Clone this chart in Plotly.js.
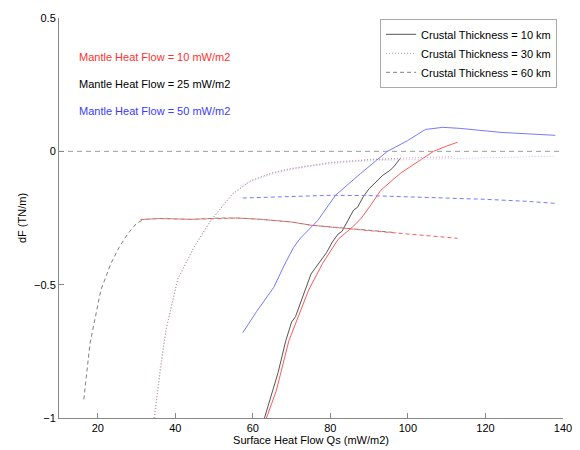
<!DOCTYPE html>
<html>
<head>
<meta charset="utf-8">
<script src="https://cdn.plot.ly/plotly-3.0.1.min.js"></script>
<style>html,body{margin:0;padding:0;background:#fff;}#chart{width:580px;height:450px;}</style>
</head>
<body>
<div id="chart"></div>
<script>
// ---- data ----
const legendNames = ["Crustal Thickness = 10 km", "Crustal Thickness = 30 km", "Crustal Thickness = 60 km"];
const mantleLabels = ["Mantle Heat Flow = 10 mW/m2", "Mantle Heat Flow = 25 mW/m2", "Mantle Heat Flow = 50 mW/m2"];

// 10 km crust (solid)
const red10x = [63.5, 66, 69.3, 74.4, 78, 82, 86, 88, 90.5, 93, 98, 103, 106.6, 110, 112.8];
const red10y = [-1, -0.9, -0.71, -0.52, -0.42, -0.33, -0.28, -0.25, -0.2, -0.146, -0.083, -0.034, 0, 0.02, 0.034];
const blk10x = [63, 65, 66.5, 68.5, 70, 71, 73.6, 75, 76, 78, 79, 80.5, 82, 83, 84.4, 86, 87, 88.5, 90, 91, 92.2, 93.5, 95.5, 96.5, 98];
const blk10y = [-1, -0.9, -0.83, -0.71, -0.64, -0.62, -0.52, -0.46, -0.44, -0.40, -0.38, -0.34, -0.31, -0.30, -0.26, -0.22, -0.21, -0.17, -0.14, -0.125, -0.11, -0.09, -0.07, -0.055, -0.027];
const blu10x = [57.4, 61, 65.4, 68, 70.5, 72.3, 76.7, 81.3, 87.8, 94.7, 99.9, 104.5, 109, 113.5, 124, 138];
const blu10y = [-0.68, -0.6, -0.51, -0.43, -0.36, -0.325, -0.26, -0.165, -0.083, 0, 0.04, 0.082, 0.09, 0.086, 0.071, 0.06];

// 30 km crust (dotted)
const red30x = [34.7, 36, 37.6, 40.6, 44.8, 49.1, 54.8, 59.5, 65, 69.8, 80, 90.4, 97.4, 105, 112];
const red30y = [-1, -0.82, -0.67, -0.48, -0.36, -0.26, -0.158, -0.11, -0.08, -0.064, -0.041, -0.03, -0.026, -0.022, -0.02];
const blk30x = [34.5, 36, 37.6, 40.6, 44.8, 49.1, 54.8, 59.5, 65, 69.8, 80, 90.4, 97.4];
const blk30y = [-1, -0.83, -0.67, -0.48, -0.36, -0.26, -0.16, -0.11, -0.082, -0.066, -0.043, -0.032, -0.028];
const blu30x = [56.9, 60, 65, 70, 75, 85, 95, 110, 125, 138];
const blu30y = [-0.128, -0.11, -0.085, -0.068, -0.055, -0.04, -0.033, -0.028, -0.022, -0.018];

// 60 km crust (dashed)
const red60x = [31, 36, 44, 51.7, 56, 62, 70, 75, 80, 86, 92, 100, 106, 112.8];
const red60y = [-0.256, -0.252, -0.255, -0.25, -0.25, -0.255, -0.265, -0.277, -0.283, -0.29, -0.3, -0.31, -0.318, -0.326];
const blk60x = [16.4, 18, 20.8, 23.4, 25.5, 27.7, 30, 31.9, 36, 44, 51.7, 56, 62, 70, 75, 80, 86, 92, 97];
const blk60y = [-0.93, -0.72, -0.52, -0.42, -0.36, -0.31, -0.27, -0.255, -0.252, -0.255, -0.25, -0.25, -0.255, -0.265, -0.277, -0.283, -0.29, -0.3, -0.305];
const blu60x = [57.4, 70, 80, 90, 100, 110, 120, 130, 138];
const blu60y = [-0.175, -0.17, -0.165, -0.166, -0.17, -0.175, -0.18, -0.187, -0.195];

// zero reference line
const zeroX = [10, 140];
const zeroY = [0, 0];

const xTicks = [20, 40, 60, 80, 100, 120, 140];
const yTicks = [-1, -0.5, 0, 0.5];
const yTickText = ["\u22121", "\u22120.5", "0", "0.5"];

// ---- styles ----
const RED = "#ff5a5a", BLK = "#555555", BLU = "#7878ff";
const FONT = "Liberation Sans, Arial, sans-serif";
const DASH = "4px,3px", DOT = "1px,2px";

function tr(x, y, color, dash, name, show) {
  return {x: x, y: y, type: "scatter", mode: "lines", name: name || "",
          showlegend: !!show, hoverinfo: "skip",
          line: {color: color, width: 1, dash: dash}};
}

const traces = [
  tr(zeroX, zeroY, "#9a9a9a", "5px,4px", "", false),
  tr(red30x, red30y, "#ec9c9c", DOT),
  tr(blk10x, blk10y, BLK, "solid", legendNames[0], true),
  tr(blk30x, blk30y, "#a0a0a0", DOT, legendNames[1], true),
  tr(blk60x, blk60y, "#808080", DASH, legendNames[2], true),
  tr(red10x, red10y, RED, "solid"),
  tr(blu10x, blu10y, BLU, "solid"),
  tr(blu30x, blu30y, "#c0c0ff", DOT),
  tr(red60x, red60y, RED, DASH),
  tr(blu60x, blu60y, BLU, DASH)
];

const layout = {
  width: 580, height: 450,
  margin: {l: 59, r: 17, t: 18, b: 32, pad: 0},
  paper_bgcolor: "#ffffff", plot_bgcolor: "#ffffff",
  font: {family: FONT, size: 11, color: "#000"},
  showlegend: true,
  legend: {x: 0.637, y: 0.998, xanchor: "left", yanchor: "top",
           bgcolor: "#ffffff", bordercolor: "#aaaaaa", borderwidth: 1,
           font: {family: FONT, size: 11, color: "#000"},
           tracegroupgap: 0, itemwidth: 30},
  xaxis: {range: [10, 140], tickvals: xTicks, ticks: "inside", ticklen: 5,
          tickcolor: "#888", showline: true, linecolor: "#888", linewidth: 1,
          showgrid: false, zeroline: false, mirror: false,
          title: {text: "Surface Heat Flow Qs (mW/m2)", standoff: 3, font: {size: 11}}},
  yaxis: {range: [-1, 0.5], tickvals: yTicks, ticktext: yTickText, ticks: "inside", ticklen: 5,
          tickcolor: "#888", showline: true, linecolor: "#888", linewidth: 1,
          showgrid: false, zeroline: false,
          title: {text: "dF (TN/m)", standoff: 5, font: {size: 11}}},
  annotations: [
    {text: mantleLabels[0], font: {color: "#ff3030", size: 11}},
    {text: mantleLabels[1], font: {color: "#000000", size: 11}},
    {text: mantleLabels[2], font: {color: "#3a3aff", size: 11}}
  ].map((a, i) => Object.assign(a, {xref: "paper", yref: "paper", x: 0.035, y: [0.902, 0.835, 0.768][i],
      xanchor: "left", yanchor: "middle", showarrow: false}))
};

Plotly.newPlot("chart", traces, layout, {staticPlot: true, displayModeBar: false});
</script>
</body>
</html>
